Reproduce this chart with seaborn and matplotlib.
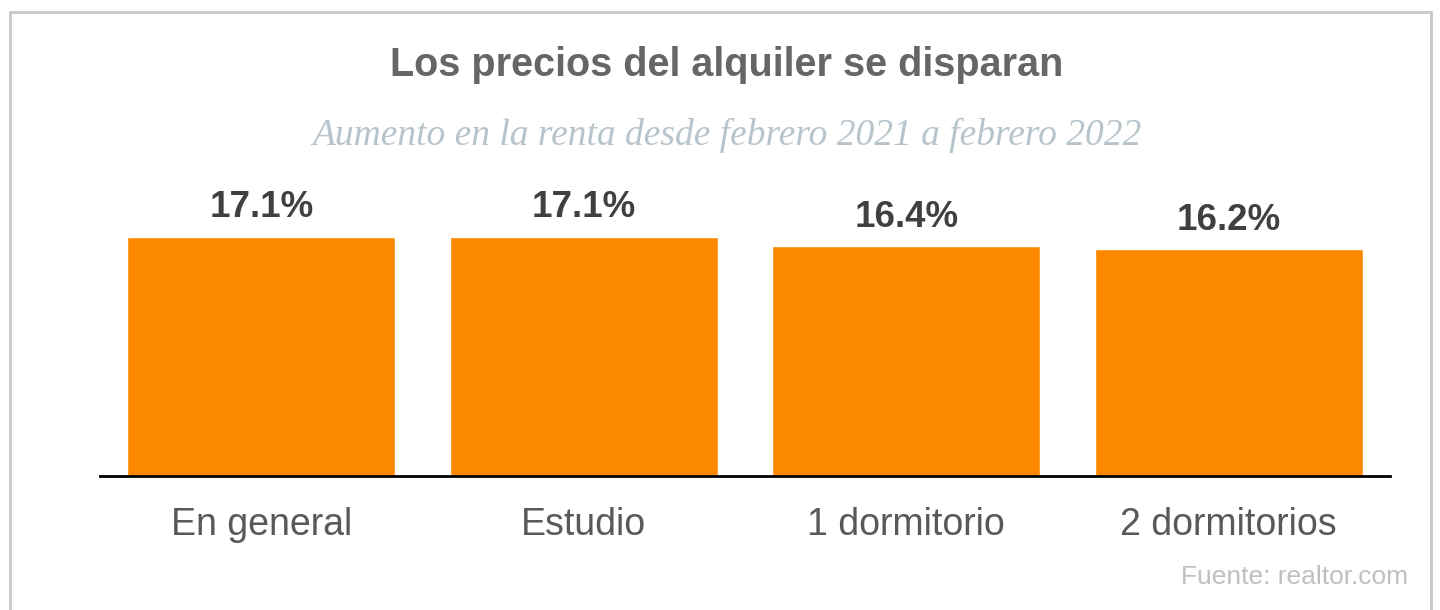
import matplotlib
matplotlib.use("Agg")
import matplotlib.pyplot as plt
import seaborn as sns
import pandas as pd
from matplotlib.lines import Line2D

sns.set_style("white")
plt.rcParams['font.family'] = ['Liberation Sans', 'DejaVu Sans']

# data
categories = ["En general", "Estudio", "1 dormitorio", "2 dormitorios"]
values = [17.1, 17.1, 16.4, 16.2]
value_labels = ["17.1%", "17.1%", "16.4%", "16.2%"]

TITLE = "Los precios del alquiler se disparan"
SUBTITLE = "Aumento en la renta desde febrero 2021 a febrero 2022"
SOURCE = "Fuente: realtor.com"

df = pd.DataFrame({"cat": categories, "val": values})

fig = plt.figure(figsize=(14.4, 6.1), dpi=100)
ax = fig.add_axes([100 / 1440, (610 - 476) / 610, 1290 / 1440, 306 / 610])

sns.barplot(data=df, x="cat", y="val", color="#fc8800", saturation=1,
            width=0.83, ax=ax, errorbar=None)

ax.set_xlim(-0.5, len(categories) - 0.5)
ax.set_ylim(0, 21.85)
ax.set_xlabel("")
ax.set_ylabel("")
ax.set_yticks([])
ax.tick_params(axis="x", length=0, pad=22, labelsize=27, labelcolor="#595959")
for side in ["top", "left", "right"]:
    ax.spines[side].set_visible(False)
ax.spines["bottom"].set_color("black")
ax.spines["bottom"].set_linewidth(2)

# value labels over bars
for i, (v, lab) in enumerate(zip(values, value_labels)):
    ax.annotate(lab, (i, v), xytext=(0, 8), textcoords="offset points",
                ha="center", va="bottom", fontsize=26.5, fontweight="bold",
                color="#404040")

fig.text(727 / 1440, 1 - 65 / 610, TITLE, ha="center", va="center",
         fontsize=28.5, fontweight="bold", color="#666666")
fig.text(727 / 1440, 1 - 135 / 610, SUBTITLE, ha="center", va="center",
         fontsize=27, style="italic", color="#b8c4cb",
         family=["Liberation Serif", "DejaVu Serif"])
fig.text(1408 / 1440, 1 - 577 / 610, SOURCE, ha="right", va="center",
         fontsize=19, color="#c0c0c0")

# light grey frame (open at the bottom)
fc = "#c8c8c8"
x0, x1, y0 = 10 / 1440, 1431 / 1440, 1 - 12 / 610
fig.add_artist(Line2D([x0, x0], [0, y0], color=fc, lw=2, transform=fig.transFigure))
fig.add_artist(Line2D([x0, x1], [y0, y0], color=fc, lw=2, transform=fig.transFigure))
fig.add_artist(Line2D([x1, x1], [0, y0], color=fc, lw=2, transform=fig.transFigure))

fig.savefig("out.png", dpi=100)
